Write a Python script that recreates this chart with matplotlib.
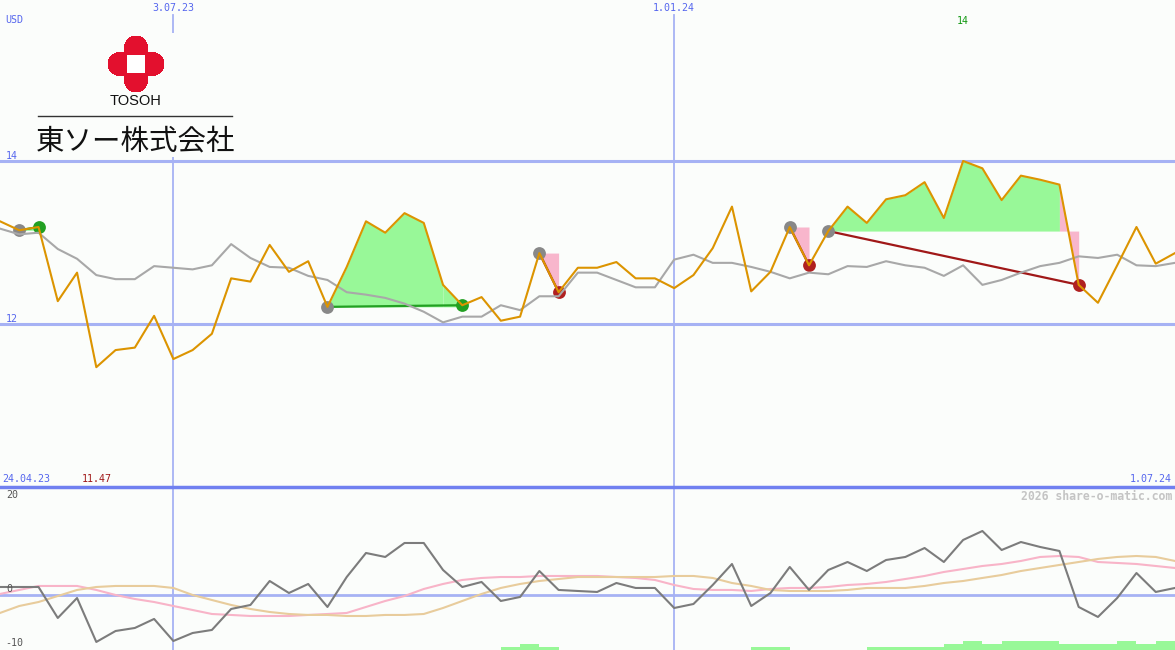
import numpy as np
import pandas as pd
import matplotlib
matplotlib.use('Agg')
from matplotlib import pyplot as plt
from matplotlib import transforms
from matplotlib.patches import Rectangle

#%% Dados (semanal, 1.05.23 a 1.07.24)
dates = pd.date_range('2023-05-01', '2024-07-01', freq='7D')

price = [13.26, 13.15, 13.19, 12.28, 12.63, 11.47, 11.68, 11.71, 12.10, 11.57,
         11.68, 11.88, 12.56, 12.52, 12.97, 12.64, 12.77, 12.21, 12.70, 13.26,
         13.12, 13.36, 13.24, 12.48, 12.23, 12.33, 12.04, 12.09, 12.87, 12.39,
         12.69, 12.69, 12.76, 12.56, 12.56, 12.44, 12.60, 12.93, 13.44, 12.40,
         12.64, 13.19, 12.72, 13.14, 13.44, 13.24, 13.53, 13.58, 13.74, 13.30,
         14.00, 13.91, 13.52, 13.82, 13.77, 13.71, 12.48, 12.26, 12.72, 13.19,
         12.74, 12.87]

media = [13.17, 13.10, 13.12, 12.92, 12.80, 12.60, 12.55, 12.55, 12.71, 12.69,
         12.67, 12.72, 12.98, 12.81, 12.70, 12.69, 12.59, 12.54, 12.39, 12.36,
         12.32, 12.25, 12.15, 12.02, 12.09, 12.09, 12.23, 12.17, 12.34, 12.34,
         12.63, 12.63, 12.54, 12.45, 12.45, 12.79, 12.85, 12.75, 12.75, 12.70,
         12.64, 12.56, 12.63, 12.61, 12.71, 12.70, 12.77, 12.72, 12.69, 12.59,
         12.72, 12.48, 12.54, 12.63, 12.71, 12.75, 12.83, 12.81, 12.85, 12.72,
         12.71, 12.75]

momento = [1.48, 1.48, 1.48, -4.26, -0.56, -8.70, -6.67, -6.11, -4.44, -8.52,
           -7.04, -6.48, -2.59, -1.85, 2.59, 0.37, 2.04, -2.22, 3.33, 7.78,
           7.04, 9.63, 9.63, 4.63, 1.48, 2.41, -1.11, -0.37, 4.44, 0.93,
           0.74, 0.56, 2.22, 1.30, 1.30, -2.41, -1.67, 1.85, 5.74, -2.04,
           0.37, 5.19, 0.93, 4.63, 6.11, 4.44, 6.48, 7.04, 8.70, 6.11,
           10.19, 11.85, 8.33, 9.81, 8.89, 8.15, -2.22, -4.07, -0.56, 4.07,
           0.56, 1.30]

rosa = [0.19, 0.93, 1.67, 1.67, 1.67, 0.93, 0.00, -0.74, -1.30, -2.04,
        -2.78, -3.52, -3.70, -3.89, -3.89, -3.89, -3.70, -3.52, -3.33, -2.22,
        -1.11, -0.19, 1.11, 2.04, 2.78, 3.15, 3.33, 3.33, 3.52, 3.52,
        3.52, 3.52, 3.33, 3.15, 2.78, 1.85, 1.11, 0.93, 0.93, 0.74,
        1.11, 1.30, 1.30, 1.48, 1.85, 2.04, 2.41, 2.96, 3.52, 4.26,
        4.81, 5.37, 5.74, 6.30, 7.04, 7.22, 7.04, 6.11, 5.93, 5.74,
        5.37, 5.00]

bege = [-3.33, -2.04, -1.30, -0.19, 0.93, 1.48, 1.67, 1.67, 1.67, 1.30,
        0.00, -0.93, -1.85, -2.59, -3.15, -3.52, -3.70, -3.70, -3.89, -3.89,
        -3.70, -3.70, -3.52, -2.41, -1.11, 0.19, 1.30, 2.04, 2.59, 2.96,
        3.33, 3.33, 3.33, 3.33, 3.33, 3.52, 3.52, 3.15, 2.22, 1.67,
        0.93, 0.74, 0.74, 0.74, 0.93, 1.30, 1.30, 1.30, 1.67, 2.22,
        2.59, 3.15, 3.70, 4.44, 5.00, 5.56, 6.11, 6.67, 7.04, 7.22,
        7.04, 6.30]

barras = [0, 0, 0, 0, 0, 0, 0, 0, 0, 0,
          0, 0, 0, 0, 0, 0, 0, 0, 0, 0,
          0, 0, 0, 0, 0, 0, 1, 2, 1, 0,
          0, 0, 0, 0, 0, 0, 0, 0, 0, 1,
          1, 0, 0, 0, 0, 1, 1, 1, 1, 2,
          3, 2, 3, 3, 3, 2, 2, 2, 3, 2,
          3, 0]

# operacoes: indice de entrada e de saida
entrada = [1, 17, 28, 41, 43]
saida = [2, 24, 29, 42, 56]

grade_datas = ['2023-07-03', '2024-01-01']
grade_rotulos = ['3.07.23', '1.01.24']

price = np.array(price)

#%% Figura
W, H = 1175, 650
fundo = '#fbfdfb'
azul_claro = '#a6b2f4'
azul = '#5566ee'
fig = plt.figure(figsize=(W / 100, H / 100), dpi=100, facecolor=fundo)

def px(x, y):
    return x / W, 1 - y / H

ax = fig.add_axes([0, 163 / H, 1, 487 / H], facecolor=fundo)
axb = fig.add_axes([0, 0, 1, 163 / H], facecolor=fundo)
for a in (ax, axb):
    a.set_xlim(dates[0], dates[-1])
    for s in a.spines.values():
        s.set_visible(False)
    a.set_xticks([])
    a.set_yticks([])
ax.set_ylim(10.0, 15.975)
axb.set_ylim(-10.19, 20)

#%% Painel de precos
for nivel in (14, 12):
    ax.axhline(nivel, color=azul_claro, lw=2.2, zorder=1)
for d in grade_datas:
    ax.axvline(pd.Timestamp(d), ymax=0.969, color=azul_claro, lw=1.3, zorder=1)
    axb.axvline(pd.Timestamp(d), color=azul_claro, lw=1.3, zorder=1)

verde_claro = '#98f898'
rosa_claro = '#f8b6cc'
for a, b in zip(entrada, saida):
    nivel = price[a]
    ganho = price[b] > price[a]
    if b - a > 1:
        ax.fill_between(dates[a:b], nivel, price[a:b], color=verde_claro, lw=0, zorder=2)
    ax.fill_between(dates[b - 1:b + 1], nivel, price[b - 1:b + 1],
                    color=verde_claro if ganho else rosa_claro, lw=0, zorder=2)
    ax.plot([dates[a], dates[b]], [price[a], price[b]],
            color='#22a022' if ganho else '#a01818', lw=1.6, zorder=3)
    ax.scatter(dates[a], price[a], s=85, color='#888888', zorder=4, lw=0)
    ax.scatter(dates[b], price[b], s=85, color='#22a022' if ganho else '#b02020',
               zorder=4, lw=0)

ax.plot(dates, media, color='#a8a8a8', lw=1.5, zorder=5)
ax.plot(dates, price, color='#dc9400', lw=1.5, zorder=6)

# maximo e minimo
tr = transforms.blended_transform_factory(ax.transData, ax.transAxes)
imax = int(np.argmax(price))
imin = int(np.argmin(price))
ax.text(dates[imax], 1 - 21 / 487, f'{price[imax]:g}', transform=tr, ha='center',
        va='center', color='#119911', family='DejaVu Sans Mono', fontsize=7.2)
ax.text(dates[imin], 8 / 487, f'{price[imin]:.2f}', transform=tr, ha='center',
        va='center', color='#a01818', family='DejaVu Sans Mono', fontsize=7.2)

rot = dict(family='DejaVu Sans Mono', fontsize=7.2, va='center')
fig.text(*px(5, 20), 'USD', color=azul, **rot)
fig.text(*px(6, 156), '14', color=azul, **rot)
fig.text(*px(6, 319), '12', color=azul, **rot)
for d, r in zip(grade_datas, grade_rotulos):
    ax.text(pd.Timestamp(d), 1 - 8 / 487, r, transform=tr, ha='center', color=azul, **rot)
fig.text(*px(2, 479), '24.04.23', color=azul, **rot)
fig.text(*px(1172, 479), '1.07.24', color=azul, ha='right', **rot)

#%% Painel inferior
axb.axhline(0, color=azul_claro, lw=2, zorder=1)
axb.axhline(20, color='#7080f0', lw=2.5, zorder=6, clip_on=False)
passo = 0.556
axb.bar(dates, np.array(barras) * passo, width=7, align='edge', bottom=-10.19,
        color=verde_claro, lw=0, zorder=2)
axb.plot(dates, rosa, color='#f8b4c8', lw=1.5, zorder=3)
axb.plot(dates, bege, color='#e8cc9c', lw=1.5, zorder=3)
axb.plot(dates, momento, color='#7c7c7c', lw=1.5, zorder=4)

fig.text(*px(6, 495), '20', color='#555555', **rot)
fig.text(*px(6, 589), '0', color='#555555', **rot)
fig.text(*px(5, 643), '-10', color='#555555', **rot)
fig.text(*px(1172, 496), '2026 share-o-matic.com', color='#c4c4c4', ha='right',
         family='DejaVu Sans Mono', fontsize=8.3, weight='bold', va='center')

#%% Logotipo
lg = fig.add_axes([*px(35, 157), 200 / W, 124 / H], facecolor=fundo)
for s in lg.spines.values():
    s.set_visible(False)
lg.set_xticks([])
lg.set_yticks([])
lg.set_xlim(35, 235)
lg.set_ylim(157, 33)

cx, cy = 136, 64
gx, gy = np.meshgrid(np.linspace(100, 172, 300), np.linspace(30, 100, 300))
centros = [(cx, cy - 16.5), (cx, cy + 16.5), (cx - 16.5, cy), (cx + 16.5, cy)]
k = 2.0
dist = [np.hypot(gx - a, gy - b) - 11.3 for a, b in centros]
f = -k * np.log(sum(np.exp(-d / k) for d in dist))
lg.contourf(gx, gy, f, levels=[-100, 0], colors=['#e3102e'])
lg.add_patch(Rectangle((cx - 9, cy - 9), 18, 18, color='white', lw=0))
lg.text(cx, 101, 'TOSOH', ha='center', va='center', fontsize=10.5,
        family='Liberation Sans', color='#111111')
lg.plot([38, 232], [116, 116], color='#333333', lw=1)
lg.text(cx, 142, '東ソー株式会社', ha='center', va='center', fontsize=20.5,
        family=['Noto Sans CJK JP', 'DejaVu Sans'], color='#111111')

fig.savefig('out.png', dpi=100, facecolor=fundo)
